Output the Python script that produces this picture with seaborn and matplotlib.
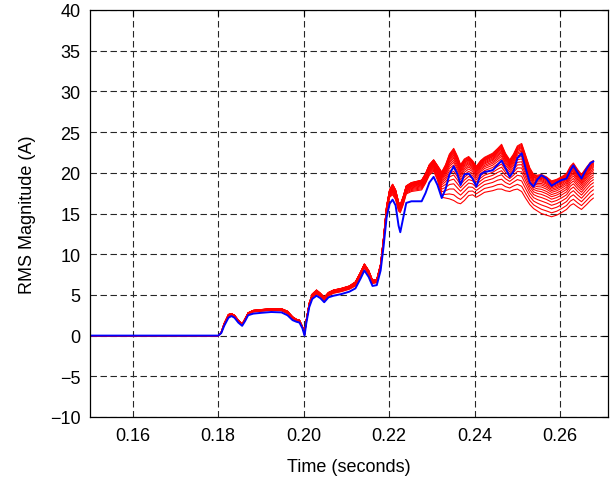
import numpy as np
import pandas as pd
import matplotlib
matplotlib.use("Agg")
import matplotlib.pyplot as plt
from matplotlib.ticker import FormatStrFormatter
import seaborn as sns

# values
time_s = [0.150, 0.180, 0.1807, 0.1814, 0.1824, 0.1831, 0.1838, 0.1847, 0.1856,
          0.1863, 0.1870, 0.1882, 0.1901, 0.1924, 0.1948, 0.1962, 0.1974, 0.1983,
          0.1990, 0.1997, 0.2002, 0.2006, 0.2013, 0.2020, 0.2030, 0.2039, 0.2048,
          0.2058, 0.2070, 0.2088, 0.2107, 0.2121, 0.2133, 0.2142, 0.2152, 0.2161,
          0.2171, 0.2180, 0.2187, 0.2194, 0.2201, 0.2208, 0.2215, 0.2222, 0.2226,
          0.2233, 0.2240, 0.2252, 0.2276, 0.2285, 0.2294, 0.2304, 0.2313, 0.2323,
          0.2332, 0.2341, 0.2351, 0.2360, 0.2367, 0.2376, 0.2386, 0.2395, 0.2404,
          0.2414, 0.2423, 0.2442, 0.2454, 0.2463, 0.2472, 0.2482, 0.2491, 0.2500,
          0.2510, 0.2519, 0.2529, 0.2538, 0.2547, 0.2556, 0.2568, 0.2580, 0.2592,
          0.2603, 0.2615, 0.2624, 0.2631, 0.2641, 0.2650, 0.2662, 0.2671, 0.2678]

blue_rms = [0, 0, 0.3, 1.2, 2.2, 2.4, 2.2, 1.6, 1.2,
            1.8, 2.5, 2.7, 2.8, 2.9, 2.85, 2.5, 1.9, 1.7,
            1.6, 0.9, 0.0, 1.5, 3.5, 4.5, 4.9, 4.6, 4.1,
            4.7, 4.9, 5.1, 5.4, 5.8, 7.0, 8.0, 7.2, 6.1,
            6.2, 8.0, 11.0, 14.5, 16.2, 16.7, 16.0, 13.5, 12.7,
            14.5, 16.3, 16.5, 16.5, 17.5, 18.8, 19.5, 18.5, 16.9,
            18.0, 19.8, 20.8, 19.8, 18.5, 19.8, 19.9, 19.3, 18.3,
            19.8, 20.1, 20.3, 21.0, 21.5, 20.6, 19.5, 20.2, 21.8,
            22.4, 20.6, 18.8, 18.3, 19.2, 19.7, 19.3, 18.4, 18.8,
            19.1, 19.3, 20.3, 20.9, 20.0, 19.3, 20.5, 21.2, 21.4]

# upper and lower edge of the bundle of red traces
red_top = [0, 0, 0.4, 1.5, 2.6, 2.7, 2.5, 1.9, 1.4,
           2.1, 2.8, 3.1, 3.2, 3.3, 3.3, 3.0, 2.3, 2.0,
           1.9, 1.1, 0.2, 1.9, 4.0, 5.1, 5.6, 5.2, 4.7,
           5.3, 5.6, 5.8, 6.1, 6.6, 7.8, 8.8, 8.0, 6.8,
           6.9, 8.8, 12.1, 15.9, 17.9, 18.6, 17.9, 16.4, 16.1,
           17.1, 18.4, 18.8, 19.1, 19.9, 21.0, 21.6, 20.9, 20.1,
           21.0, 22.3, 23.0, 22.0, 21.0, 21.7, 22.0, 21.5, 20.8,
           21.5, 21.9, 22.4, 23.0, 23.5, 22.4, 21.6, 22.3, 23.3,
           23.6, 22.2, 20.6, 19.8, 19.7, 19.8, 19.5, 19.0, 19.2,
           19.5, 19.9, 20.8, 21.2, 20.4, 19.8, 20.7, 21.3, 21.5]

red_bottom = [0, 0, 0.3, 1.3, 2.3, 2.5, 2.3, 1.7, 1.3,
              1.9, 2.6, 2.9, 3.0, 3.1, 3.05, 2.7, 2.1, 1.8,
              1.7, 1.0, 0.1, 1.6, 3.6, 4.7, 5.1, 4.8, 4.3,
              4.9, 5.2, 5.4, 5.7, 6.1, 7.3, 8.3, 7.5, 6.4,
              6.5, 8.3, 11.4, 15.1, 17.0, 17.3, 16.7, 15.3, 15.1,
              16.1, 17.4, 17.7, 17.9, 18.7, 19.7, 20.2, 19.1, 17.0,
              16.9, 16.8, 16.6, 16.3, 16.2, 16.6, 17.2, 17.3, 17.0,
              17.3, 17.6, 17.8, 18.0, 18.0, 17.8, 17.7, 17.9, 18.0,
              17.7, 16.9, 16.1, 15.6, 15.3, 15.0, 14.8, 14.6, 14.8,
              15.1, 15.5, 16.0, 16.2, 15.8, 15.5, 16.1, 16.6, 16.9]

# where each red trace sits inside the bundle (0 = top edge, 1 = bottom edge)
red_band_pos = [0.0, 0.02, 0.04, 0.06, 0.08, 0.10, 0.13, 0.16, 0.19, 0.23,
                0.27, 0.32, 0.38, 0.44, 0.51, 0.59, 0.68, 0.78, 0.89, 1.0]

x_ticks = [0.16, 0.18, 0.20, 0.22, 0.24, 0.26]
y_ticks = [-10, -5, 0, 5, 10, 15, 20, 25, 30, 35, 40]

sns.set_theme(style="white")
plt.rcParams['font.family'] = ['Liberation Sans', 'DejaVu Sans']

top = np.array(red_top)
bottom = np.array(red_bottom)
frames = []
for k, pos in enumerate(red_band_pos):
    frames.append(pd.DataFrame({'time': time_s,
                                'rms': top + pos * (bottom - top),
                                'trace': k}))
red_df = pd.concat(frames, ignore_index=True)
blue_df = pd.DataFrame({'time': time_s, 'rms': blue_rms})

fig = plt.figure(figsize=(6.1, 4.85), dpi=100)
ax = fig.add_axes([90 / 610, 67 / 485, 518 / 610, 407 / 485])

sns.lineplot(data=red_df, x='time', y='rms', units='trace', estimator=None,
             color='#ff0000', lw=0.8, ax=ax, legend=False)
sns.lineplot(data=blue_df, x='time', y='rms', color='#0000ff', lw=1.4,
             ax=ax, legend=False)

ax.set_xlim(0.15, 0.2712)
ax.set_ylim(-10, 40)
ax.set_xticks(x_ticks)
ax.set_yticks(y_ticks)
ax.xaxis.set_major_formatter(FormatStrFormatter('%.2f'))
ax.set_axisbelow(True)
ax.grid(True, linestyle=(0, (5.8, 3.2)), color='0.15', lw=0.8)
ax.tick_params(direction='in', length=4, width=0.8, top=True, right=True,
               labelsize=13, pad=7, colors='black')
for sp in ax.spines.values():
    sp.set_color('black')
    sp.set_linewidth(0.9)

ax.set_xlabel('Time (seconds)', fontsize=13, labelpad=10, color='black')
ax.set_ylabel('RMS Magnitude (A)', fontsize=13, labelpad=10, color='black')

fig.savefig('out.png', dpi=100)
